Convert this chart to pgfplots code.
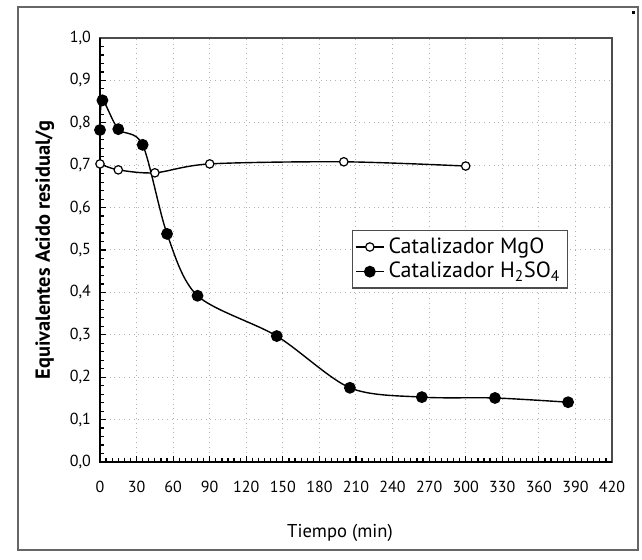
\documentclass[border=0pt]{standalone}
\usepackage{fontspec}
\setmainfont{PT Sans}
\usepackage{pgfplots}
\pgfplotsset{compat=1.18}
\begin{document}
\begin{tikzpicture}
\useasboundingbox (-50pt,-49pt) rectangle (271pt,231pt);
\draw[line width=0.75pt, black!60] (-41pt,-44pt) rectangle (269pt,227.5pt);
\fill (266pt,224pt) rectangle (267.3pt,225.3pt);
\begin{axis}[
  at={(0pt,0pt)}, anchor=south west,
  scale only axis, width=256pt, height=212pt,
  xmin=0, xmax=420, ymin=0, ymax=1,
  xtick={0,30,...,420}, ytick={0,0.1,...,1.0},
  minor x tick num=5, minor y tick num=4,
  tick align=inside, xtick pos=left, ytick pos=left,
  major tick length=3pt, minor tick length=2pt,
  every tick/.style={black, line width=0.6pt},
  grid=major,
  major grid style={dotted, black!30, line width=0.5pt},
  axis line style={black!70, line width=0.7pt},
  /pgf/number format/assume math mode=true,
  yticklabel style={/pgf/number format/use comma, /pgf/number format/fixed, /pgf/number format/fixed zerofill, /pgf/number format/precision=1, xshift=-1pt},
  xticklabel style={/pgf/number format/fixed, /pgf/number format/precision=0, yshift=-6pt},
  ticklabel style={font=\fontsize{8}{9.5}\selectfont},
  xlabel={Tiempo (min)},
  xlabel style={font=\fontsize{9.3}{11}\selectfont, yshift=-9pt, xshift=-8pt},
  ylabel={\bfseries Equivalentes Acido residual/g},
  ylabel style={font=\fontsize{10.2}{12}\selectfont, yshift=1pt},
  legend style={at={(0.914,0.547)}, anchor=north east, draw=black!70, line width=0.6pt,
    font=\fontsize{11}{13}\selectfont, inner sep=1.5pt, row sep=-1pt,
    legend cell align=left},
  legend image code/.code={%
    \draw[#1] (0pt,0pt) -- (14pt,0pt);
    \draw[#1, mark repeat=2, mark phase=2] plot coordinates {(0pt,0pt) (7pt,0pt) (14pt,0pt)};},
  clip=false,
]
\addplot[black, line width=0.7pt, smooth, mark=*, mark size=2.1pt,
  mark options={fill=white, line width=0.6pt}] coordinates {
  (0,0.703) (15,0.689) (45,0.682) (90,0.703) (200,0.708) (300,0.698)
};
\addlegendentry{Catalizador MgO}
\addplot[black, line width=0.7pt, smooth, mark=*, mark size=2.6pt,
  mark options={fill=black}] coordinates {
  (0,0.783) (2,0.853) (15,0.785) (35,0.748) (55,0.538) (80,0.392)
  (145,0.297) (205,0.175) (264,0.153) (324,0.151) (384,0.141)
};
\addlegendentry{Catalizador H\textsubscript{2}SO\textsubscript{4}}
\draw[black, line width=1.2pt] (rel axis cs:0,1) -- (rel axis cs:0,0) -- (rel axis cs:1,0);
\end{axis}
\end{tikzpicture}
\end{document}
